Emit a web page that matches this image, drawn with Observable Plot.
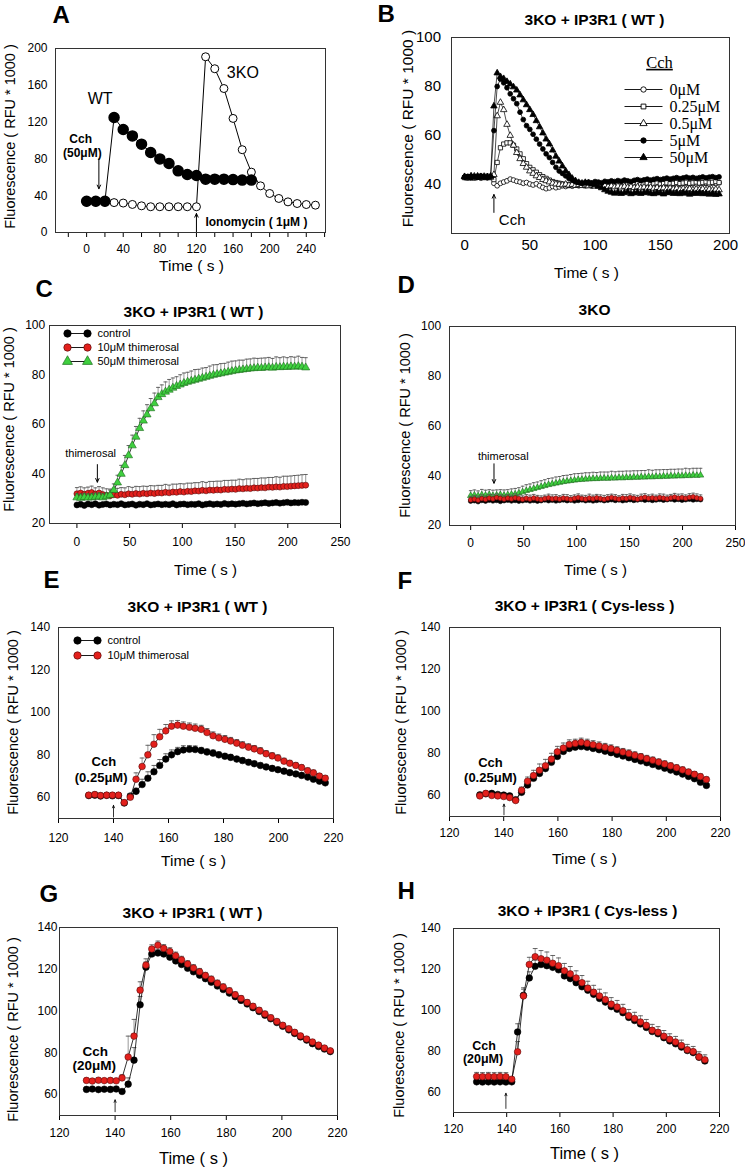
<!DOCTYPE html>
<html><head><meta charset="utf-8">
<script src="https://cdn.jsdelivr.net/npm/d3@7"></script>
<script src="https://cdn.jsdelivr.net/npm/@observablehq/plot@0.6"></script>
<style>
html,body{margin:0;padding:0;background:#fff;}
#fig{position:relative;width:745px;height:1167px;overflow:hidden;background:#fff;}
</style></head><body><div id="fig"></div>
<script>
// ---------------- DATA ----------------
// Panel A
const A_wtTime = [0,10,20,30,40,50,60,70,80,90,100,110,120,130,140,150,160,170,180];
const A_wt = [34,34,34,125,112,105,96,87,80,75,67,63,62,58,58,58,57.5,57,57];
const A_koTime = [0,10,20,30,40,50,60,70,80,90,100,110,120,130,140,150,160,170,180,190,200,210,220,230,240,250];
const A_ko = [33,33,33,32.5,32,30.5,29,28,28,28,28,28,28,191,178,156.5,124,90,65.6,50.7,42.4,37,33.3,31.5,30.4,29.7];

// Panel B
const B_labels = ["0μM","0.25μM","0.5μM","5μM","50μM"];
const B_time = [0,2.5,5,7.5,10,12.5,15,17.5,20,22.5,25,27.5,30,32.5,35,37.5,40,42.5,45,47.5,50,52.5,55,57.5,60,62.5,65,67.5,70,72.5,75,77.5,80,82.5,85,87.5,90,92.5,95,97.5,100,102.5,105,107.5,110,112.5,115,117.5,120,122.5,125,127.5,130,132.5,135,137.5,140,142.5,145,147.5,150,152.5,155,157.5,160,162.5,165,167.5,170,172.5,175,177.5,180,182.5,185,187.5,190,192.5,195];
const B_0 = [43.0,42.7,43.3,42.9,43.1,42.6,43.2,42.8,43.0,
  40.5,39.5,40.5,41,41.5,42.2,41.8,41.3,41,40.5,40.8,40.2,39.8,40.3,39.5,38.8,38.3,38.6,39.2,38.7,39,39.5,39.2,39.6,
  39.3,39.8,39.5,40.0,39.6,39.9,39.4,39.8,40.1,39.7,40.0,39.5,39.9,40.2,39.7,40.0,39.6,40.1,39.8,40.3,39.9,40.1,39.7,40.2,40.0,40.4,39.9,40.2,40.0,40.5,40.1,40.3,39.9,40.4,40.2,40.6,40.1,40.4,40.2,40.6,40.3,40.5,40.1,40.6,40.4,40.7];
const B_025 = [42.8,43.2,43.0,42.6,43.3,42.9,43.1,43.4,42.8,
  42,49,55,56.5,57,57,56,54.5,52.5,50.5,48.5,47,46,45,44,43.2,42.5,41.8,41.2,40.8,40.5,
  40.2,40.0,39.8,40.1,39.7,40.0,39.8,39.5,39.9,39.6,40.0,39.7,39.5,39.8,40.1,39.6,39.9,40.2,39.8,40.0,40.3,39.9,40.1,40.4,40.0,40.2,40.5,40.1,40.3,40.6,40.2,40.4,40.7,40.3,40.5,40.8,40.4,40.6,40.9,40.5,40.7,41.0,40.6,40.8,41.1,40.7,40.9,41.2,40.8];
const B_05 = [43.1,42.6,43.0,43.4,42.8,43.2,42.7,43.1,42.9,
  44,68,73.5,70.5,64.5,60,56,53,50.5,48.5,47,45.5,44.5,43.5,42.8,42,41.5,41,40.5,40.2,
  40.0,39.8,40.1,39.7,40.0,39.6,39.9,39.5,39.8,39.4,39.7,39.3,39.6,39.2,39.5,39.1,39.4,39.0,39.3,38.9,39.2,38.8,39.1,38.7,39.0,38.6,38.9,38.5,38.8,38.4,38.7,38.3,38.6,38.2,38.5,38.1,38.4,38.0,38.3,37.9,38.2,37.8,38.1,37.9,38.2,37.8,38.0,37.7,38.0,37.8];
const B_5 = [43.0,43.3,42.7,43.2,42.9,43.5,43.0,42.8,43.2,
  62,80,83,81.5,79.5,77,75,73,69.5,66.5,64,62.5,60.5,58.5,56.5,54.5,52.5,51,49,47,45.5,44.5,43.5,42.5,41.8,41.2,40.8,40.5,
  40.8,41.0,40.6,41.2,41.0,40.7,41.3,41.1,41.5,41.2,41.6,41.3,41.8,41.5,41.2,41.7,42.0,41.6,41.9,42.2,41.8,42.1,42.4,42.0,42.3,42.6,42.2,42.5,42.8,42.4,42.7,43.0,42.6,42.9,42.5,42.8,43.1,42.7,43.0,43.2,42.8,43.1];
const B_50 = [43.2,42.8,43.5,43.0,43.4,42.9,43.3,43.1,43.4,
  72,85.5,84,83.2,82,81,79.8,78.5,76.5,74.5,72.5,70.5,68.5,66,63.5,61,58.5,56.5,54,51.5,49.5,47.5,45.5,44,42.5,41.5,40.8,40.5,
  40.8,40.5,40.2,39.8,39.2,38.6,37.8,37.2,36.8,36.4,36.9,36.3,36.6,37.0,36.2,36.5,36.8,36.3,36.6,36.9,36.4,36.2,36.7,36.5,36.1,36.6,36.8,36.3,36.5,36.2,36.7,36.4,36.0,36.5,36.3,36.6,36.2,36.4,36.0,36.3,35.9,36.1];

// Panels C and D (same sampling)
const CD_labels = ["control","10μM thimerosal","50μM thimerosal"];
const CD_time = [0,3.5,7,10.5,14,17.5,21,24.5,28,31.5,35,38.5,42,45.5,49,52.5,56,59.5,63,66.5,70,73.5,77,80.5,84,87.5,91,94.5,98,101.5,105,108.5,112,115.5,119,122.5,126,129.5,133,136.5,140,143.5,147,150.5,154,157.5,161,164.5,168,171.5,175,178.5,182,185.5,189,192.5,196,199.5,203,206.5,210,213.5,217];
const C_ctl = [27.5,27.8,27.3,27.9,27.6,28,27.4,27.7,27.9,27.5,27.8,27.6,28,27.5,27.7,27.9,27.4,27.8,27.6,28,27.5,27.7,27.9,27.6,27.8,27.6,28,27.5,27.8,27.9,27.6,27.8,27.7,28,27.5,27.8,28,27.7,27.9,27.7,28.1,27.8,28,27.8,28,28.2,27.9,28.1,28.3,28,28.2,28.4,28.1,28.3,28.5,28.2,28.4,28.6,28.3,28.5,28.4,28.6,28.5];
const C_10 = [32,32.3,31.8,32.2,32.5,31.9,32.3,31.7,31.4,31.2,31.6,31.4,31.8,31.6,32,31.8,32.1,31.9,32.2,32,32.3,32.1,32.4,32.3,32.6,32.4,32.7,32.6,32.9,32.7,33,32.9,33.2,33.1,33.4,33.2,33.5,33.4,33.6,33.5,33.8,33.7,33.9,33.8,34.1,34,34.2,34.1,34.4,34.3,34.5,34.4,34.7,34.6,34.8,34.7,35,34.9,35.1,35.2,35.3,35.4,35.5];
const C_10err = [2.5,2.5,2.6,2.5,2.6,2.5,2.6,2.7,2.6,2.7,2.7,2.8,2.7,2.8,2.9,2.8,2.9,3,2.9,3,3,3.1,3,3.1,3.2,3.1,3.2,3.3,3.2,3.3,3.3,3.4,3.3,3.4,3.5,3.4,3.5,3.6,3.5,3.6,3.6,3.7,3.6,3.7,3.8,3.7,3.8,3.9,3.8,3.9,3.9,4,3.9,4,4.1,4,4.1,4.2,4.1,4.2,4.2,4.3,4.3];
const C_50 = [30.5,30.3,30.6,30.4,30.5,30.7,30.8,30.5,30.9,31.5,33.5,36.5,40,43.5,47.5,51.5,55,58.5,61.5,64,66.5,68.5,71,72.2,73.2,74,74.8,75.5,76.1,76.7,77.2,77.6,78,78.4,78.8,79.2,79.6,80,80.3,80.6,80.9,81.2,81.5,81.8,82,82.2,82.4,82.6,82.7,82.9,82.8,83,83.1,82.9,83.2,83.1,83.3,83.2,83.4,83.3,83.5,83.3,83];
const C_50err = [1.5,1.5,1.5,1.5,1.5,1.5,1.5,1.5,1.5,2,2.5,3,3.5,4,4,4.2,4.2,4,4,4,4,4.2,4,3.8,4,4.2,4,3.8,4,4.1,3.9,4,4.2,3.9,4,3.8,4,4.1,3.9,4,3.8,4,4.1,3.9,4,3.8,4,3.9,4.1,3.8,4,3.9,4,3.8,4.1,3.9,4,3.8,4,3.9,4.1,3.8,4];
const D_ctl = [29.8,30,29.6,30.1,29.8,30.2,29.9,30.1,29.7,30,30.2,29.9,30.1,29.8,30,30.2,29.9,30.1,29.8,30,30.3,30,30.2,29.9,30.1,30.3,30,30.2,29.9,30.1,30.3,30,30.2,29.9,30.1,30.3,30,30.2,30.4,30.1,30.3,30,30.2,30.4,30.1,30.3,30.5,30.2,30.4,30.1,30.3,30.5,30.2,30.4,30.6,30.3,30.5,30.2,30.4,30.6,30.3,30.5,30.4];
const D_10 = [30.3,30.6,30.2,30.8,30.5,31,30.7,31.2,30.9,30.6,31,30.7,31.1,30.8,30.5,30.9,30.6,31,30.7,30.4,30.8,31.1,30.7,30.9,30.6,31,30.8,30.5,30.9,31.2,30.8,30.6,31,30.7,31.1,30.8,30.5,30.9,31.2,30.9,30.6,31,30.8,31.2,30.9,30.6,31,31.3,30.9,31.1,30.8,31.2,31,30.7,31.1,31.4,31,31.2,30.9,31.3,31.5,31.1,30.8];
const D_10err = [1.4,1.5,1.6,1.5,1.4,1.5,1.6,1.5,1.4,1.5,1.4,1.5,1.6,1.5,1.4,1.5,1.6,1.5,1.4,1.5,1.4,1.5,1.6,1.5,1.4,1.5,1.6,1.5,1.4,1.5,1.4,1.5,1.6,1.5,1.4,1.5,1.6,1.5,1.4,1.5,1.4,1.5,1.6,1.5,1.4,1.5,1.6,1.5,1.4,1.5,1.4,1.5,1.6,1.5,1.4,1.5,1.6,1.5,1.4,1.5,1.5,1.6,1.5];
const D_50 = [32,32.2,31.9,32.3,32.1,32.4,32,32.2,32.4,32.1,32.3,32.5,32.6,33,33.5,34,34.4,34.8,35.2,35.6,36,36.4,36.7,37,37.3,37.6,37.8,38,38.2,38.4,38.5,38.6,38.7,38.8,38.8,38.9,39,38.9,39.1,39,39.2,39.1,39.3,39.2,39.4,39.3,39.5,39.4,39.6,39.5,39.7,39.6,39.8,39.7,39.9,39.8,40,39.9,40.1,40,40.2,40.1,40.2];
const D_50err = [2,2.1,2,2.2,2.1,2,2.2,2.1,2,2.2,2.1,2.2,2.3,2.2,2.3,2.4,2.3,2.4,2.3,2.4,2.4,2.5,2.4,2.5,2.4,2.5,2.4,2.5,2.6,2.5,2.5,2.6,2.5,2.6,2.5,2.6,2.5,2.6,2.7,2.6,2.6,2.7,2.6,2.7,2.6,2.7,2.6,2.7,2.8,2.7,2.7,2.8,2.7,2.8,2.7,2.8,2.7,2.8,2.9,2.8,2.8,2.9,2.8];

// Panel E
const EF_labels = ["control","10μM thimerosal"];
const E_time = [131.0,133.2,135.3,137.5,139.6,141.8,143.9,146.1,148.2,150.4,152.5,154.7,156.8,159.0,161.1,163.3,165.4,167.6,169.7,171.9,174.0,176.2,178.3,180.5,182.6,184.8,186.9,189.1,191.2,193.4,195.5,197.7,199.8,202.0,204.1,206.3,208.4,210.6,212.7,214.9,217.0];
const E_ctl = [60.8,61,60.6,60.9,60.7,60.8,57.3,60.6,62.8,66,69,72,75,78,80,81.5,82.3,82.6,82.5,82,81.3,80.8,80,79.3,78.8,78,77.3,76.5,75.8,75,74.3,73.6,73,72.3,71.6,71,70.3,69.5,68.5,67.6,66.8];
const E_ctlErr = [1,1,1,1,1,1,1,1,1.5,2.5,3,3,2.8,2.5,2.3,2,2,1.8,1.7,1.5,1.5,1.5,1.4,1.4,1.4,1.3,1.3,1.3,1.2,1.2,1.2,1.1,1.1,1.1,1,1,1,1,1,1,1];
const E_10 = [61,61.3,60.8,61,61,61,57.5,60,68.5,74.5,80,85,88.5,91.3,93.5,94,93.5,93,92.5,92,90.5,89,88,87.3,86.5,85.5,84.5,83.6,82.8,81.8,80.5,79.5,78.5,77,76,75,74,72.5,71.5,70,69];
const E_10Err = [1.2,1.2,1.2,1.2,1.2,1.2,1,1.5,3,4,4.5,4.5,3.5,3,2.5,2.2,2,2,2,1.9,1.9,1.8,1.8,1.8,1.7,1.7,1.7,1.6,1.6,1.6,1.5,1.5,1.5,1.4,1.4,1.4,1.3,1.3,1.3,1.2,1.2];

// Panel F
const F_time = [131.2,133.4,135.6,137.8,140.0,142.2,144.4,146.6,148.8,151.0,153.2,155.4,157.6,159.8,162.0,164.2,166.4,168.6,170.8,173.0,175.2,177.4,179.6,181.8,184.0,186.2,188.4,190.6,192.8,195.0,197.2,199.4,201.6,203.8,206.0,208.2,210.4,212.6,214.8];
const F_ctl = [60.3,60.8,61,60.5,60.2,59.8,58,61.5,65,68.2,70.5,72.8,75.8,78.6,81,82.4,83,83.3,83,82.4,81.8,81.1,80.4,79.6,78.8,78,77.2,76.4,75.6,74.8,73.9,73,72.1,71.2,70.2,69.1,68,66.3,64.8];
const F_ctlErr = [0.8,0.8,0.8,0.8,0.8,0.8,0.8,1,1.5,2,2.2,2.2,2,2,1.8,1.6,1.5,1.5,1.4,1.4,1.4,1.3,1.3,1.3,1.2,1.2,1.2,1.1,1.1,1.1,1,1,1,1,1,1,1,1,1];
const F_10 = [59.8,61,60,59.8,59.5,59,57.6,62.5,66.8,69.5,72,74.2,77.3,80.8,82.6,84.3,84.8,85.3,84.8,84.2,83.6,83,82.3,81.5,80.7,80,79.2,78.4,77.5,76.8,75.9,75,74.1,73.2,72.2,71.2,70.1,69,67.6];
const F_10Err = [1,1,1,1,1,1,1,1.5,2,2.5,3,3,2.8,2.6,2.4,2.2,2,2,2,1.9,1.9,1.8,1.8,1.7,1.7,1.7,1.6,1.6,1.6,1.5,1.5,1.5,1.4,1.4,1.4,1.3,1.3,1.3,1.2];

// Panel G
const G_time = [129.7,131.8,134.0,136.1,138.3,140.4,142.5,144.7,146.8,149.0,151.1,153.2,155.4,157.5,159.7,161.8,163.9,166.1,168.2,170.4,172.5,174.6,176.8,178.9,181.1,183.2,185.3,187.5,189.6,191.8,193.9,196.0,198.2,200.3,202.5,204.6,206.7,208.9,211.0,213.2,215.3,217.4];
const G_ctl = [62.5,62.7,62.4,62.6,62.5,62.7,61.5,65,76.5,103,121,127.3,127.8,127.3,125.8,124,122.3,120.5,118.8,117.2,115.5,113.8,112,110.3,108.6,106.9,105.1,103.4,101.6,99.8,98,96.3,94.5,92.7,91,89.3,87.6,86.1,84.4,83,81.8,80.6];
const G_ctlErr = [0.8,0.8,0.8,0.8,0.8,0.8,1,3,6,4,2.5,1.5,1.5,1.5,1.4,1.4,1.4,1.3,1.3,1.3,1.3,1.2,1.2,1.2,1.2,1.2,1.1,1.1,1.1,1.1,1.1,1,1,1,1,1,1,1,1,1,1,1];
const G_10 = [66.8,66.5,66.9,66.7,66.8,66.6,68,78,88,110,122,129.7,131.5,130,128.5,126.5,124.5,122.5,120.6,118.8,117,115.2,113.3,111.5,109.7,107.8,106,104.1,102.3,100.4,98.6,96.8,95,93.2,91.5,89.8,88.1,86.6,85.2,83.7,82.3,81];
const G_10Err = [1,1,1,1,1,1,1.5,10,8,4,3,2,2,1.8,1.8,1.7,1.7,1.6,1.6,1.6,1.5,1.5,1.5,1.5,1.4,1.4,1.4,1.4,1.3,1.3,1.3,1.3,1.2,1.2,1.2,1.2,1.1,1.1,1.1,1.1,1,1];

// Panel H
const H_time = [128.7,130.9,133.1,135.3,137.5,139.7,141.9,144.1,146.3,148.5,150.7,152.9,155.1,157.3,159.5,161.7,163.9,166.1,168.3,170.5,172.7,174.9,177.1,179.3,181.5,183.7,185.9,188.1,190.3,192.5,194.7,196.9,199.1,201.3,203.5,205.7,207.9,210.1,212.3,214.5];
const H_ctl = [65,64.9,65,64.9,65,64.9,65,89.4,107.3,115.8,121.5,122.4,121.8,121,119.8,116.8,115.5,113.5,111.5,109.8,107.8,105.8,104,101.8,100.5,98.8,96.5,95,93.3,91.6,89.6,88.5,86.6,85,83.6,82,80.3,79.3,77,75.2];
const H_ctlErr = [1.5,1.5,1.5,1.5,1.5,1.5,1.5,4,3,3,3,3,3,2.8,2.8,2.6,2.6,2.5,2.5,2.4,2.4,2.3,2.3,2.2,2.2,2.1,2.1,2,2,1.9,1.9,1.8,1.8,1.7,1.7,1.6,1.6,1.5,1.5,1.4];
const H_10 = [67.6,67.5,67.6,67.5,67.6,67.5,66.3,79.7,107,122.4,126.2,125.2,124.5,123,121.8,119.3,117.8,115.8,113.5,110.8,108.8,107,105.2,103,101.6,99.8,97.3,96,94.3,92.6,90.2,89.2,87.3,85.8,84.5,82.8,80.7,79.8,77.2,75.8];
const H_10Err = [2,2,2,2,2,2,1,5,4,3.5,4,4,4,3.8,3.8,3.6,3.6,3.5,3.5,3.4,3.4,3.3,3.3,3.2,3.2,3.1,3.1,3,3,2.9,2.9,2.8,2.8,2.7,2.7,2.6,2.6,2.5,2.5,2.4];

// ---------------- DRAWING ----------------
const FONT = 'Arial, "Liberation Sans", Helvetica, sans-serif';
const SERIF = '"Times New Roman", "Liberation Serif", serif';
const RED = "#e3201c", RED_S = "#5a0a0a", GREEN = "#3fcf3f", GREEN_S = "#1d6a1d";
const ERR = "#7d7d7d";
const fig = document.getElementById("fig");
const rows = (t, v, e) => t.map((x, i) => ({t: x, v: v[i], e: e ? e[i] : 0}));
const capSym = {draw(ctx, size) { const w = Math.sqrt(size / Math.PI); ctx.moveTo(-w, 0); ctx.lineTo(w, 0); }};

function series(data, o) {
  const m = [];
  if (o.err) {
    m.push(Plot.ruleX(data, {x: "t", y1: "v", y2: d => d.v + d.e, stroke: ERR, strokeWidth: 0.8}));
    m.push(Plot.dot(data, {x: "t", y: d => d.v + d.e, symbol: capSym, r: o.capR || 2, fill: "none", stroke: "#555", strokeWidth: 0.9}));
  }
  m.push(Plot.line(data, {x: "t", y: "v", stroke: "#000", strokeWidth: o.lw || 0.8}));
  m.push(Plot.dot(data, {x: "t", y: "v", symbol: o.symbol || "circle", r: o.r || 3, fill: o.fill || "#000", stroke: o.stroke || "#000", strokeWidth: o.sw ?? 0.6}));
  return m;
}
const note = (s, x, y, o = {}) => Plot.text([s], {x: () => x, y: () => y, text: d => d, fill: "#000", fontFamily: FONT, lineAnchor: "middle", textAnchor: "middle", ...o});
const arrow = (x, y1, y2, o = {}) => Plot.arrow([0], {x1: () => x, x2: () => x, y1: () => y1, y2: () => y2, stroke: "#000", strokeWidth: 1, headLength: 6, headAngle: 50, bend: 0, ...o});

function panel(cfg) {
  const [L, T, W, H] = cfg.region;
  const [x1, x2, y1, y2] = cfg.frame;
  const at = (px, py) => ({frameAnchor: "top-left", dx: px - x1, dy: py - y1});
  const txt = (s, px, py, o = {}) => Plot.text([s], {text: d => d, ...at(px, py), textAnchor: "middle", lineAnchor: "middle", fill: "#000", fontFamily: FONT, ...o});
  const marks = [...cfg.marks, Plot.frame({stroke: "#333", strokeWidth: 1})];
  marks.push(txt(cfg.letter[0], cfg.letter[1], cfg.letter[2], {fontSize: 24, fontWeight: "bold", textAnchor: "start"}));
  if (cfg.title) marks.push(txt(cfg.title[0], cfg.title[1], cfg.title[2], {fontSize: 15.5, fontWeight: "bold"}));
  marks.push(txt("Fluorescence ( RFU * 1000 )", cfg.ylab[0], cfg.ylab[1], {fontSize: cfg.ylab[2] || 14.5, rotate: -90}));
  marks.push(txt("Time ( s )", cfg.xlab[0], cfg.xlab[1], {fontSize: cfg.xlab[2] || 15.5}));
  const svg = Plot.plot({
    width: W, height: H,
    marginLeft: x1 - L, marginRight: L + W - x2, marginTop: y1 - T, marginBottom: T + H - y2,
    x: {domain: cfg.xDomain, label: null, ticks: cfg.xTicks, tickFormat: cfg.xFormat || (d => String(d)), tickSize: cfg.xTick[0], tickPadding: cfg.xTick[1]},
    y: {domain: cfg.yDomain, label: null, ticks: cfg.yTicks, tickFormat: d => String(d), tickSize: cfg.yTick[0], tickPadding: cfg.yTick[1]},
    style: {background: "transparent", overflow: "visible", fontFamily: FONT, fontSize: (cfg.tickFont || 12) + "px", color: "#000"},
    marks
  });
  svg.style.position = "absolute"; svg.style.left = L + "px"; svg.style.top = T + "px";
  fig.append(svg);
}

function legend(o) {
  const labels = o.items.map(d => d.label);
  const marks = [Plot.link(o.items, {x1: () => o.lineX[0], x2: () => o.lineX[1], y1: d => d.label, y2: d => d.label, stroke: "#000", strokeWidth: 0.9})];
  for (const it of o.items) for (const mx of o.markX)
    marks.push(Plot.dot([it], {x: () => mx, y: d => d.label, symbol: it.symbol, fill: it.fill, stroke: it.stroke, strokeWidth: it.sw ?? 0.7, r: o.r}));
  marks.push(Plot.text(o.items, {x: () => o.textX, y: d => d.label, text: d => d.label, textAnchor: "start", lineAnchor: "middle", fontSize: o.fontSize, fontFamily: o.font, fill: "#000"}));
  if (o.title) marks.push(Plot.text([o.title[0]], {text: d => d, frameAnchor: "top-left", dx: o.title[1], dy: o.title[2], textAnchor: "middle", lineAnchor: "middle", fontSize: o.title[3], fontFamily: o.font, fill: "#000"}));
  const svg = Plot.plot({
    width: o.width, height: o.height, margin: 0,
    x: {domain: [0, o.width], axis: null},
    y: {type: "point", domain: labels, range: o.rowRange, padding: 0, axis: null},
    style: {background: "transparent", overflow: "visible"},
    marks
  });
  if (o.title) svg.querySelectorAll("text").forEach(t => { if (t.textContent === o.title[0]) t.setAttribute("text-decoration", "underline"); });
  svg.style.position = "absolute"; svg.style.left = o.left + "px"; svg.style.top = o.top + "px";
  fig.append(svg);
}

const tk = (a, b, s) => { const r = []; for (let v = a; v <= b + 1e-9; v += s) r.push(v); return r; };

// Panel A
panel({
  region: [0, 0, 372, 282], frame: [55, 325, 48, 232], xDomain: [-34, 261], yDomain: [0, 200],
  xTicks: tk(-20, 260, 20), xFormat: d => (d % 40 === 0 && d >= 0 && d <= 240) ? String(d) : "", xTick: [5, 7],
  yTicks: tk(0, 200, 40), yTick: [0, 8],
  letter: ["A", 52, 15], ylab: [10, 136], xlab: [191, 266],
  marks: [
    Plot.line(rows(A_koTime, A_ko), {x: "t", y: "v", stroke: "#000", strokeWidth: 1}),
    Plot.line(rows(A_wtTime, A_wt), {x: "t", y: "v", stroke: "#000", strokeWidth: 1}),
    Plot.dot(rows(A_koTime, A_ko), {x: "t", y: "v", r: 4, fill: "#fff", stroke: "#000", strokeWidth: 1}),
    Plot.dot(rows(A_wtTime, A_wt), {x: "t", y: "v", r: 5, fill: "#000", stroke: "#000"}),
    note("WT", 14.7, 145.6, {fontSize: 16}),
    note("3KO", 170.7, 173, {fontSize: 16}),
    note("Cch", -6.5, 102, {fontSize: 12, fontWeight: "bold"}),
    note("(50μM)", -4.7, 86, {fontSize: 12, fontWeight: "bold"}),
    arrow(13.4, 80, 47.6),
    note("Ionomycin ( 1μM )", 129.8, 10.9, {fontSize: 12, fontWeight: "bold", textAnchor: "start"}),
    arrow(120, 0, 20.6)
  ]
});

// Panel B
const bStyles = [
  {symbol: "circle", fill: "#fff"}, {symbol: "square", fill: "#fff"}, {symbol: "triangle", fill: "#fff"},
  {symbol: "circle", fill: "#000"}, {symbol: "triangle", fill: "#000"}
];
const bSeries = [B_0, B_025, B_05, B_5, B_50];
panel({
  region: [372, 0, 373, 282], frame: [451, 729, 37, 233], xDomain: [-10, 203], yDomain: [20, 100],
  xTicks: [0, 50, 100, 150, 200], xTick: [0, 6], yTicks: [40, 60, 80, 100], yTick: [0, 10.5], tickFont: 15,
  letter: ["B", 377, 13.5], title: ["3KO + IP3R1 ( WT )", 594, 20], ylab: [408, 128, 15.5], xlab: [586, 273],
  marks: [
    ...bSeries.flatMap((s, i) => series(rows(B_time, s), {symbol: bStyles[i].symbol, fill: bStyles[i].fill, stroke: "#000", r: 2.4, sw: 0.8, lw: 0.7})),
    note("Cch", 36.5, 25.3, {fontSize: 15}),
    arrow(22.5, 28.6, 35.9, {headLength: 6})
  ]
});
legend({
  left: 610, top: 45, width: 135, height: 125, rowRange: [44, 112], lineX: [14, 52], markX: [33], textX: 59,
  r: 2.7, fontSize: 16, font: SERIF, title: ["Cch", 49, 17, 16.5],
  items: B_labels.map((l, i) => ({label: l, symbol: bStyles[i].symbol, fill: bStyles[i].fill, stroke: "#000", sw: 0.9}))
});

// Panel C
const cdStyles = [
  {symbol: "circle", fill: "#000", stroke: "#000"},
  {symbol: "circle", fill: RED, stroke: RED_S},
  {symbol: "triangle", fill: GREEN, stroke: GREEN_S}
];
panel({
  region: [0, 282, 372, 296], frame: [49, 340, 325, 523], xDomain: [-26, 250], yDomain: [20, 100],
  xTicks: tk(0, 250, 50), xTick: [5, 9], yTicks: tk(20, 100, 20), yTick: [0, 4.3],
  letter: ["C", 35, 288.5], title: ["3KO + IP3R1 ( WT )", 193, 312], ylab: [8.5, 419], xlab: [205, 570, 15],
  marks: [
    ...series(rows(CD_time, C_ctl), {...cdStyles[0], r: 3}),
    ...series(rows(CD_time, C_10, C_10err), {...cdStyles[1], r: 3, err: true, capR: 2}),
    ...series(rows(CD_time, C_50, C_50err), {...cdStyles[2], r: 3, err: true, capR: 2}),
    note("thimerosal", 13, 48.3, {fontSize: 11}),
    arrow(19.4, 43.8, 36.7, {headLength: 6})
  ]
});
legend({
  left: 55, top: 320, width: 170, height: 50, rowRange: [12.7, 41], lineX: [12, 32], markX: [12, 32], textX: 42,
  r: 3.7, fontSize: 11, font: FONT,
  items: CD_labels.map((l, i) => ({label: l, ...cdStyles[i]}))
});

// Panel D
panel({
  region: [372, 282, 373, 296], frame: [449, 735, 326, 525], xDomain: [-20, 250], yDomain: [20, 100],
  xTicks: tk(0, 250, 50), xTick: [5, 8], yTicks: tk(20, 100, 20), yTick: [0, 8.4],
  letter: ["D", 397, 285], title: ["3KO", 594, 310], ylab: [405, 425], xlab: [595, 570, 15],
  marks: [
    ...series(rows(CD_time, D_ctl), {...cdStyles[0], r: 2.4}),
    ...series(rows(CD_time, D_50, D_50err), {...cdStyles[2], r: 2.4, err: true, capR: 1.8}),
    ...series(rows(CD_time, D_10, D_10err), {...cdStyles[1], r: 2.4, err: true, capR: 1.8}),
    note("thimerosal", 30.8, 47.7, {fontSize: 11}),
    arrow(22, 44.8, 37, {headLength: 6})
  ]
});

// Panel E
const efStyles = [
  {symbol: "circle", fill: "#000", stroke: "#000"},
  {symbol: "circle", fill: RED, stroke: RED_S}
];
panel({
  region: [0, 578, 372, 290], frame: [58, 333, 627, 818], xDomain: [120, 220], yDomain: [50, 140],
  xTicks: tk(120, 220, 20), xTick: [5, 10], yTicks: tk(60, 140, 20), yTick: [0, 8.3],
  letter: ["E", 43, 580], title: ["3KO + IP3R1 ( WT )", 197, 607], ylab: [12.5, 722], xlab: [193, 861],
  marks: [
    ...series(rows(E_time, E_ctl, E_ctlErr), {...efStyles[0], r: 3.3, err: true, capR: 2.4}),
    ...series(rows(E_time, E_10, E_10Err), {...efStyles[1], r: 3.3, err: true, capR: 2.4}),
    note("Cch", 136.5, 76.5, {fontSize: 13, fontWeight: "bold"}),
    note("(0.25μM)", 135.5, 69, {fontSize: 13, fontWeight: "bold"}),
    arrow(140, 50.7, 56.2, {headLength: 5, headAngle: 45, strokeWidth: 0.8})
  ]
});
legend({
  left: 60, top: 630, width: 170, height: 35, rowRange: [10, 25], lineX: [17, 37], markX: [17, 37], textX: 47,
  r: 3.7, fontSize: 11, font: FONT,
  items: EF_labels.map((l, i) => ({label: l, ...efStyles[i]}))
});

// Panel F
panel({
  region: [372, 578, 373, 290], frame: [449, 720, 627, 816], xDomain: [120, 220], yDomain: [50, 140],
  xTicks: tk(120, 220, 20), xTick: [5, 7], yTicks: tk(60, 140, 20), yTick: [0, 9],
  letter: ["F", 397, 581], title: ["3KO + IP3R1 ( Cys-less )", 584, 606], ylab: [400.5, 722], xlab: [584, 859],
  marks: [
    ...series(rows(F_time, F_ctl, F_ctlErr), {...efStyles[0], r: 3.3, err: true, capR: 2.4}),
    ...series(rows(F_time, F_10, F_10Err), {...efStyles[1], r: 3.3, err: true, capR: 2.4}),
    note("Cch", 135.1, 75.7, {fontSize: 13, fontWeight: "bold"}),
    note("(0.25μM)", 135.1, 68.3, {fontSize: 13, fontWeight: "bold"}),
    arrow(140.1, 50.8, 55.9, {headLength: 5, headAngle: 45, strokeWidth: 0.8})
  ]
});

// Panel G
panel({
  region: [0, 868, 372, 299], frame: [59, 337, 927, 1115], xDomain: [120, 220], yDomain: [50, 140],
  xTicks: tk(120, 220, 20), xTick: [5, 8], yTicks: tk(60, 140, 20), yTick: [0, 2],
  letter: ["G", 39, 893.5], title: ["3KO + IP3R1 ( WT )", 192, 913], ylab: [12.5, 1029], xlab: [193, 1158, 16.5],
  marks: [
    ...series(rows(G_time, G_ctl, G_ctlErr), {...efStyles[0], r: 3.3, err: true, capR: 2.4}),
    ...series(rows(G_time, G_10, G_10Err), {...efStyles[1], r: 3.3, err: true, capR: 2.4}),
    note("Cch", 132.9, 80.6, {fontSize: 13.5, fontWeight: "bold"}),
    note("(20μM)", 132.5, 73.7, {fontSize: 13.5, fontWeight: "bold"}),
    arrow(140, 51.8, 57.5, {headLength: 5, headAngle: 45, strokeWidth: 0.8})
  ]
});

// Panel H
panel({
  region: [372, 868, 373, 299], frame: [453, 719, 928, 1112], xDomain: [120, 220], yDomain: [50, 140],
  xTicks: tk(120, 220, 20), xTick: [5, 7], yTicks: tk(60, 140, 20), yTick: [0, 12.7],
  letter: ["H", 397, 891], title: ["3KO + IP3R1 ( Cys-less )", 587, 910.5], ylab: [398.5, 1025], xlab: [584, 1153, 16.5],
  marks: [
    ...series(rows(H_time, H_ctl, H_ctlErr), {...efStyles[0], r: 3.3, err: true, capR: 2.4}),
    ...series(rows(H_time, H_10, H_10Err), {...efStyles[1], r: 3.3, err: true, capR: 2.4}),
    note("Cch", 131.5, 82.4, {fontSize: 12.5, fontWeight: "bold"}),
    note("(20μM)", 131.1, 76, {fontSize: 12.5, fontWeight: "bold"}),
    arrow(139.7, 52, 59.4, {headLength: 5, headAngle: 45, strokeWidth: 0.8})
  ]
});
</script>
</body></html>
